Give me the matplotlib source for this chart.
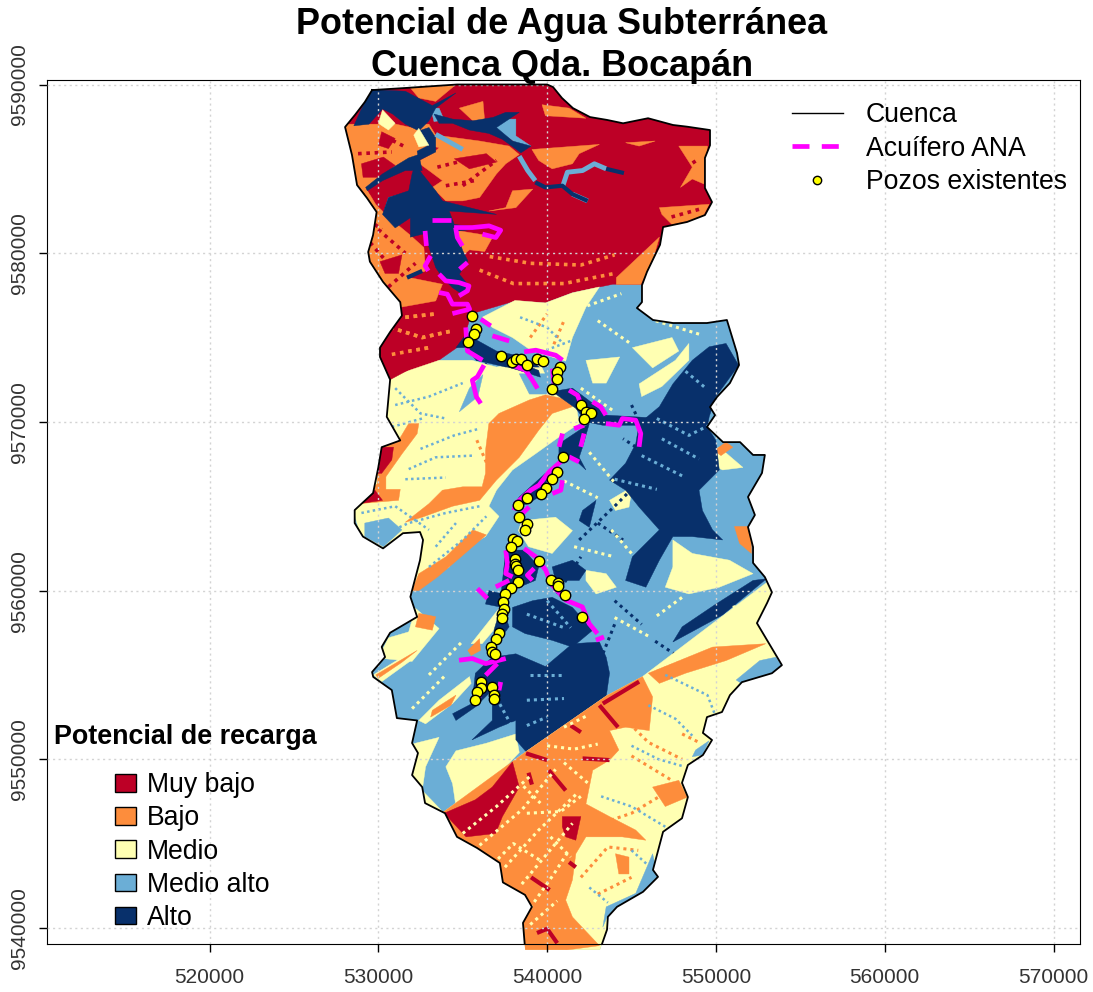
import matplotlib
matplotlib.use("Agg")
import matplotlib.pyplot as plt
from matplotlib.lines import Line2D
from matplotlib.patches import Patch, Polygon

plt.rcParams['font.family'] = ['Liberation Sans', 'DejaVu Sans']

#%% data, map coordinates in km (UTM east, north)

classes = ["Muy bajo", "Bajo", "Medio", "Medio alto", "Alto"]
class_colors = ["#BD0026", "#FD8D3C", "#FFFFB2", "#6BAED6", "#08306B"]
x_ticks = [520000, 530000, 540000, 550000, 560000, 570000]
y_ticks = [9540000, 9550000, 9560000, 9570000, 9580000, 9590000]

cuenca = [(529.63,9589.67),(531.7,9589.8),(534.66,9590),(540,9590),(540.35,9589.85),(540.88,9589.2),(541.53,9588.6),
    (542.54,9588.07),(543.55,9587.9),(544.5,9587.7),(545.98,9588),(547.46,9587.6),(548.29,9587.5),(549.65,9587.3),
    (549.65,9586.4),(549.35,9585.65),(549.35,9583.86),(549.77,9583.03),(549.35,9582.26),(548.29,9581.85),(546.87,9581.55),
    (546.69,9580.5),(545.92,9578.9),(545.62,9578.1),(545.62,9577.1),(545.32,9576.75),(546.27,9576.04),(547.46,9575.86),
    (549.47,9575.86),(550.65,9576.04),(551.25,9574.08),(551.37,9573.37),(550.83,9572.3),(550.06,9571.47),(549.65,9570.88),
    (549.95,9570.4),(549.47,9569.7),(550.42,9568.8),(551.43,9568.8),(552.2,9568.04),(552.9,9568.04),(552.73,9566.97),
    (551.9,9565.55),(552.31,9564.48),(551.9,9563.77),(552.2,9562.58),(552.2,9561.64),(552.9,9560.8),(553.32,9559.9),
    (553.03,9559.26),(552.43,9558.07),(553.38,9556.47),(553.91,9555.58),(553.32,9555.1),(551.54,9554.57),(550.83,9553.8),
    (550.36,9552.8),(549.47,9552.5),(549.23,9551.56),(549.77,9551.14),(549.23,9550.25),(548.34,9549.66),(547.99,9548.6),
    (548.34,9547.76),(547.99,9546.5),(546.87,9545.7),(546.27,9543.44),(546.57,9543.03),(545.68,9542.14),(544.14,9541.25),
    (543.6,9540.66),(543.55,9539.9),(543.13,9538.7),(538.7,9538.7),(538.57,9540.3),(539.1,9541.25),(538.69,9541.96),
    (537.38,9542.7),(537.2,9543.85),(535.85,9544.74),(534.66,9545.4),(533.95,9546.8),(532.77,9547.4),(532.6,9548.35),
    (532,9549.06),(532.35,9550.37),(532,9550.96),(532.3,9552.3),(531.1,9552.44),(530.8,9554.1),(529.7,9554.88),
    (529.63,9555.17),(530.4,9556.06),(530.2,9556.66),(530.7,9557.5),(532.3,9558.44),(531.9,9559.63),(532.47,9561.8),
    (532.65,9563),(532.47,9563.47),(531.46,9563.4),(530.28,9562.5),(529.09,9563.2),(528.6,9564),(528.6,9564.77),
    (529.69,9565.78),(530,9567.3),(530.2,9568.5),(531.3,9568.9),(530.5,9570.3),(530.7,9572.5),(530.1,9573.85),
    (530.1,9574.4),(530.7,9575.33),(531.4,9576.3),(531.3,9577.1),(530.28,9578.3),(529.5,9579.5),(529.4,9580.07),
    (529.69,9581.08),(529.9,9582.44),(529.33,9583.27),(528.74,9584.04),(528.44,9585.82),(528.03,9587.48),(528.62,9588.2),
    (529.2,9588.96)]

north_red = [[(520,9572.5),(530.6,9572.47),(532.4,9573.06),(533.6,9573.66),(535,9574.64),(535.5,9576.4),(538.1,9577.17),
    (539.9,9577.07),(541.5,9577.67),(543.9,9578.16),(545.55,9578.16),(560,9578.16),(560,9595),(520,9595)]]

north_orange = [
    [(531.9,9589.8),(534.6,9590),(533.4,9589),(532.4,9589.2)],
    [(534.8,9588.6),(536.2,9589),(536.3,9587.85),(535.6,9587.85)],
    [(539.7,9588.8),(541.3,9588.6),(542.3,9588),(539.9,9588.15)],
    [(528.06,9587.65),(531.03,9587.65),(532.41,9587.35),(533,9586.36),(532.31,9585.47),(529.25,9583.89),(529.84,9582.9),
     (530.63,9582.11),(531.82,9581.13),(532.7,9580.34),(532.8,9578.95),(531.82,9578.56),(533.8,9578.16),(533.4,9577.17),
     (531.23,9576.78),(529.64,9578.75),(528.85,9579.94),(528.85,9582.7),(528.06,9584.7)],
    [(532.4,9587.65),(533,9587.65),(533.4,9587),(536,9586.65),(537.75,9586.35),(538.35,9585.85),(537.55,9585.3),(537,9584.7),
     (536,9583.3),(535,9583.1),(534,9583.1),(533.2,9583.9),(533.8,9584.3),(533,9584.9),(532.3,9585.4),(533.2,9585.9),
     (533.6,9586.25),(532.8,9586.45)],
    [(537.55,9582.7),(537.95,9583.7),(539.15,9583.8),(538.15,9582.7),(536.55,9582.5)],
    [(539.1,9586.15),(543.1,9586.45),(541.9,9585.9),(541.5,9585.3),(540.3,9585),(539.5,9585.5)],
    [(544.65,9586.55),(546.4,9586.65),(545.45,9586.35)],
    [(547.8,9586.35),(549.5,9586.35),(549.3,9584.1),(548.6,9584.4),(547.9,9583.9),(548.6,9585.1)],
    [(546.65,9582.7),(549.6,9582.9),(549.2,9582.1),(547.4,9581.7),(546.8,9582.3)],
    [(544.1,9578.55),(546.65,9580.95),(546.25,9579.55),(545.55,9578.15),(544.1,9578.15)],
    [(532.9,9581.7),(534.3,9581.4),(536.8,9581),(536.3,9580.1),(535.4,9580.2),(534.8,9579.7),(533.4,9579.7)],
]
north_red_blobs = [
    [(529,9585.3),(530.3,9585.7),(531,9585.2),(530.2,9584.5),(529.1,9584.5)],
    [(530.1,9579.5),(531.4,9579.9),(531.2,9578.8),(530.4,9578.8)],
    [(530.2,9587.2),(531,9586.8),(530.6,9586.2),(530,9586.4)],
    [(534.5,9585.6),(536.4,9585.9),(537,9585.4),(535.4,9585)],
]
north_blue = [
    [(537,9587.95),(538.15,9587.95),(538.15,9586.95),(539.05,9586.35),(538.45,9586.35),(537.55,9586.95),(537,9587.35)],
    [(530.6,9583.3),(531.4,9583.5),(531.4,9582.3),(530.35,9582.5)],
    [(533.1,9588.6),(533.6,9588.6),(533.9,9587.9),(533.3,9587.8)],
]
north_navy = [
    [(529.55,9589.7),(531.6,9589.6),(533.2,9588.75),(534.6,9589.5),(533.4,9588.6),(533,9587.85),(532.4,9587.25),(531.6,9587.65),
     (530.85,9588.25),(530.25,9588.55),(529.45,9587.65),(528.55,9587.55),(528.95,9588.45),(529.25,9589)],
    [(532.2,9585.3),(532.6,9584.7),(533.4,9583.7),(533.8,9583.1),(535.4,9582.7),(537,9582.3),(534.2,9582.5),(534.5,9581.7),
     (536.35,9581.5),(534.6,9581.3),(535,9580.15),(535.3,9579.55),(534.8,9578.75),(535.3,9578.15),(535,9577.55),(534.4,9577.95),
     (533.8,9578.55),(533.4,9579.15),(533,9580.35),(532.7,9581.15),(531.9,9580.95),(531.9,9582.1),(531,9581.5),(530.25,9582.3),
     (530.6,9583.3),(531.8,9583.7),(532,9584.7)],
    [(529.25,9583.9),(530.25,9584.7),(531.8,9585.65),(532.4,9585.85),(532.6,9584.9),(531.6,9584.9),(530.25,9584.3),(529.35,9583.7)],
    [(533,9587.45),(533.4,9586.85),(533.4,9586),(532.4,9585.5),(532.3,9586.05),(532.9,9586.35),(532.4,9587.25)],
    [(533.3,9588.25),(534.4,9587.95),(535.6,9587.85),(536.8,9588.05),(537.55,9588.35),(538.35,9588.35),(537,9587.45),(537.95,9586.65),
     (539.05,9586.35),(538.45,9585.95),(537.35,9586.75),(536.55,9587.1),(535.4,9587.3),(534.4,9587.7),(533.6,9587.7)],
]
north_yellow = [[(530,9587.7),(530.25,9588.5),(531,9587.7),(530.6,9587.3)], [(532.1,9587),(532.4,9587.4),(533,9586.4),(532.4,9586.3)]]
rivers_navy = [[(539.3,9584.2),(539.9,9583.9),(540.9,9584),(541.5,9583.5),(542.4,9583.1)],
    [(531.7,9578.55),(532.6,9578.95)], [(543.5,9585),(544.55,9584.75)],
    [(536.45,9573.45),(535.85,9572.65),(535.65,9571.5)], [(534.4,9570.3),(533.2,9569.4),(532.6,9568.7)]]
rivers_blue = [[(538.35,9585.75),(538.85,9584.9),(539.3,9584.3)],
    [(540.9,9583.9),(541.2,9584.8),(542.1,9584.9),(542.8,9585.3),(543.5,9585)],
    [(533.4,9587.05),(535,9586.15)], [(541.5,9583.5),(542.4,9583.1)]]

mid_yellow = [
    [(536.15,9576.2),(538.1,9577.2),(539.9,9577.05),(541.5,9577.65),(543.1,9578),(542.3,9576.8),(541.5,9575),(541.1,9573.6),
     (539.1,9574.2),(537.95,9575),(536.75,9575.6)],
    [(529.6,9572.3),(533.6,9573.65),(535.55,9573.65),(537,9573.25),(539.5,9573.65),(540.3,9571.9),(541.7,9571.1),(541.9,9569.9),
     (540.7,9569.1),(539.3,9568.1),(537.95,9567.15),(537,9565.95),(536.55,9565),(537.15,9564.4),(536.35,9563.2),(534.6,9562.2),
     (534.2,9561.4),(532.4,9560.4),(531.6,9559.4),(529.6,9561),(528.45,9565),(529.6,9568.9)],
    [(548.6,9567.45),(549.4,9568.1),(550.2,9568.5),(551.6,9567.3),(550.4,9567.15),(549.4,9567.6)],
    [(543.7,9565.35),(545.05,9566.15),(544.85,9564.95),(544.05,9564.75)],
    [(530,9556),(530.6,9557.2),(531.8,9557.55),(532.2,9558.95),(533.6,9557.75),(532,9555.8)],
    [(532.4,9552.3),(533.6,9553.5),(535.4,9554.9),(535.5,9554.5),(534.4,9553.3),(532.8,9552.1)],
    [(535.5,9556.85),(537.2,9559),(537,9557.85),(536.15,9556.85)],
    [(529.7,9555),(532.3,9556.6),(532,9555.9),(530.2,9554.6)],
    [(534,9549.55),(534.6,9550.5),(536.4,9550.95),(538.15,9551.5),(538.35,9550.4),(537.35,9549.35),(536.15,9548.2),(534.6,9547.2),(534.4,9548.55)],
    [(532,9550.9),(533.6,9551.3),(532.8,9549.55),(532.6,9548.15),(533.9,9546.8),(532.8,9547.4),(531.9,9549.15)],
    [(537.55,9554.5),(539.3,9554.9),(538.5,9554.1),(537.55,9553.7)],
    [(538.5,9564.15),(540.5,9564.35),(541.5,9563.55),(540.3,9562.2),(538.9,9562.6),(538.3,9563.55)],
    [(542.3,9561.2),(543.5,9561),(544.1,9560.2),(542.9,9559.8),(542.3,9560.6)],
    [(547.45,9563),(548.6,9562.2),(550.8,9561.8),(552.2,9561),(550.2,9560.2),(548.4,9559.8),(547,9560.2),(547.45,9561.4)],
    [(545.45,9572.25),(547.6,9573.65),(548.4,9574.65),(548.4,9573.65),(546.8,9572.1),(545.6,9571.5)],
    [(542.3,9573.65),(544.3,9573.85),(543.5,9572.3),(542.7,9572.3)],
    [(545.05,9574.4),(547.4,9575),(547.8,9574.2),(546.25,9573.2)],
]
mid_blue = [[(538.35,9572.85),(540.1,9572.85),(540.3,9571.65),(538.95,9571.65)],
    [(536.2,9572.8),(535.9,9571.5),(534.8,9570.6),(535.4,9572)],
    [(529.2,9564),(530.6,9564.3),(531.4,9563.6),(530.3,9562.6),(529.2,9563.2)]]
mid_orange = [
    [(536.55,9569.9),(537.15,9570.5),(538.95,9571.3),(539.9,9571.6),(541.3,9571.3),(541.5,9570.9),(540.3,9570.5),(539.5,9569.5),
     (538.35,9567.9),(537,9566.55),(536,9565.35),(534.4,9565),(532.6,9564.35),(531.6,9564.05),(533,9565.15),(533.8,9565.95),
     (535,9566.15),(536.15,9566.15),(536.35,9566.95),(536.35,9568.3)],
    [(532,9560),(532.4,9561),(534,9562),(535.6,9563.6),(536.4,9563.3),(534.9,9562),(533.5,9560.8),(532.4,9560)],
    [(530,9568.5),(531.2,9568.9),(531.8,9569.9),(532.4,9569.9),(532.3,9569.3),(531.4,9568.1),(530.45,9566.75),(530.45,9566),
     (531.3,9566),(531.2,9565.35),(528.85,9565.15),(529.95,9566.35),(529.95,9567.3)],
    [(551.1,9563.8),(552.1,9563.8),(552.1,9562.2),(551.4,9562.8)],
    [(549.9,9568.3),(550.6,9568.8),(551,9568.5),(550.3,9568)],
    [(532.4,9558.65),(533.4,9558.45),(533.2,9557.65),(532.2,9557.85)],
    [(529.85,9555),(532.3,9556.45),(531.4,9555.75),(530,9554.8)],
    [(535.3,9556.45),(536,9557.15),(536.05,9556.45),(535.5,9556.15)],
    [(533.2,9552.9),(534.6,9553.8),(534.3,9553.2),(533.1,9552.5)],
]
mid_red = [
    [(530,9568.5),(530.9,9568.5),(530.8,9567.75),(530.2,9566.95),(529.95,9566.95)],
    [(528.85,9565.15),(529.8,9565.95),(530.25,9565.35)],
    [(530,9575),(531.5,9574.3),(533.4,9574),(532,9573.2),(530.7,9572.5),(530,9573.5)],
]
mid_navy = [
    [(545.45,9569.9),(546.65,9570.9),(547.45,9572.25),(548.6,9573.65),(549.6,9574.45),(550.6,9574.65),(551.35,9573.35),(550,9571.5),
     (549.6,9570.3),(549.5,9569.7),(550,9568.9),(550.2,9567.15),(549,9565.95),(549.2,9564.75),(549.8,9563.6),(550.4,9563),
     (548.6,9563.2),(547.45,9563.2),(546.65,9561.8),(545.85,9560.2),(544.65,9560.6),(545.05,9562),(546.65,9563.6),(545.45,9564.95),
     (544.65,9565.95),(543.7,9566.55),(544.65,9567.55),(545.25,9568.7)],
    [(548,9557.85),(550,9559.2),(552.2,9560.6),(553,9560.7),(550.4,9558.55),(547.45,9556.95)],
    [(536.75,9556.05),(538.15,9556.25),(539.9,9555.5),(541.5,9556.85),(543.1,9556.95),(543.5,9556.05),(543.7,9555.1),(543.5,9553.7),
     (541.5,9552.3),(538.75,9550.45),(538.15,9551.15),(538.15,9552.3),(537.15,9551.9),(535.55,9551.15),(536.75,9552.3),(536.75,9554.1),
     (535.75,9553.1),(534.6,9552.3),(534.4,9552.7),(535.55,9553.3),(535.75,9555.1)],
    [(537.95,9559),(539.15,9559.4),(540.3,9559.6),(541.5,9559),(542.7,9557.65),(541.5,9556.65),(540.3,9557.05),(538.7,9557.45),(537.95,9557.85)],
    [(540.3,9561.4),(541.5,9561.8),(542.3,9561.2),(541.9,9560.6),(540.5,9560.6)],
    [(537.55,9562.4),(538.65,9562.4),(539.5,9561.4),(539.3,9560.6),(538.35,9560.2),(537.35,9559.8),(536.55,9560),(536.35,9559.2),
     (537.35,9559),(537.75,9557.85),(537.15,9557.05),(536.85,9557.65),(537.15,9558.65)],
    [(540.7,9568.7),(541.9,9569.5),(542.5,9569.9),(542.1,9568.5),(541.9,9567.9),(542.3,9567.15),(541.5,9567.9),(540.9,9567.7),(540.7,9567.9)],
    [(538.35,9565.55),(539.9,9566.95),(540.5,9566.95),(540.1,9565.95),(538.9,9565.15),(538,9564.95)],
    [(540.3,9571.8),(541.5,9572),(542.7,9571.1),(543.5,9570.4),(546.05,9570.25),(545.45,9569.8),(543.3,9569.8),(542.3,9570),(541.7,9570.8)],
    [(535.75,9574.85),(537,9574.05),(539.5,9573.05),(539.6,9572.65),(538.35,9573.05),(537,9573.45),(535.8,9573.65)],
    [(534.6,9574.4),(535.2,9575.2),(537,9574.2),(538.6,9573.85),(539.55,9573.25),(537.55,9573.25),(535.8,9573.65),(535.2,9574.4)],
    [(542.1,9564.75),(542.9,9565.35),(542.5,9563.75),(541.9,9564.15)],
]

south_yellow = [[(533.9,9546.9),(538.75,9550.45),(543.5,9553.75),(545.65,9554.9),(553.3,9560.7),(560,9560),(560,9530),(520,9530),(530,9546)]]
south_blue = [
    [(551.2,9554.7),(552.6,9555.85),(553.55,9556.05),(553.9,9555.55),(553.4,9555.05),(551.5,9554.5)],
    [(545.25,9542.05),(546.25,9544.4),(546.55,9543.05),(545.65,9542.15),(544.1,9541.25),(543.55,9540.65),(543.3,9540.05),(543.5,9541.25)],
    [(548.8,9550.55),(549.6,9551.1),(549.2,9550.25),(548.6,9550.15)],
]
south_orange = [
    [(533.9,9546.9),(538.75,9550.45),(543.5,9553.75),(545.65,9554.9),(546.25,9553.7),(546.05,9551.7),(544.65,9551.9),(543.7,9551.7),
     (544.25,9550.55),(543.7,9549.95),(542.7,9549.35),(542.5,9548.35),(542.3,9547.35),(543.7,9546.6),(545.25,9545.8),(545.85,9545.2),
     (544.45,9545.4),(542.3,9545.4),(541.7,9544.4),(541.5,9542.85),(541.1,9541.65),(541.5,9540.65),(543.1,9538.95),(536,9538),(530,9546)],
    [(547.8,9548.75),(548.3,9547.75),(547,9547.2),(546.25,9548.35)],
    [(544.05,9544.4),(544.85,9544.2),(544.85,9543.2),(544.25,9543.2)],
    [(549.8,9556.65),(552.95,9556.85),(550.6,9555.85),(548.2,9555.1),(546.65,9554.5),(546,9555.1)],
]
south_red = [
    [(537.95,9549.85),(538.35,9548.35),(537.35,9546.6),(536.95,9545.6),(535.2,9545.4),(533.9,9546.8),(535.75,9547.6),(536.75,9548.35)],
    [(540.9,9546.6),(542,9546.6),(541.7,9545.2),(541.1,9545.4),(540.9,9546)],
]
red_streaks = [[(543.1,9553.2),(544.2,9551.9)],[(542.1,9550.05),(543.7,9549.95)],[(538.75,9550.35),(540,9549.95)],
    [(540.1,9549.35),(541.1,9548.15)],[(539.05,9543),(540.15,9542.25)],[(539.4,9539.7),(540,9539.95),(540.6,9539.1)],
    [(543.3,9553.3),(545.45,9554.6)],[(541.4,9552),(542,9551.6)],[(538.9,9549.2),(539.1,9548.5)],[(541.7,9543.6),(541.3,9543.9)]]

# mottling, drawn as dotted runs
dots_yellow_on_orange = [[(535,9545.6),(537,9547.2),(539,9549)],[(536,9544.9),(538.5,9547),(540.5,9549.4)],[(537.5,9543.6),(539.5,9545.8),(541.8,9548)],
    [(538.5,9542.6),(540,9544.4),(541.5,9546.2)],[(539,9541.2),(540.4,9543.2),(541.3,9544.6)],[(539,9540.2),(540.6,9541.6)],
    [(538.8,9546.8),(540.8,9546.9),(542,9547.8)],[(540,9550.8),(541.6,9550.6),(543,9550.9)],[(541,9551.9),(542.4,9552.6)],[(538.6,9548.4),(539.6,9547.4)],
    [(536.8,9543.8),(538,9545),(539.6,9544)],[(540.2,9545.4),(541.4,9544.2)],[(541,9549.8),(542.4,9548.6)]]
dots_blue_on_yellow = [[(531,9572),(532.5,9570.5),(534,9570.2)],[(531,9571),(533,9571.5),(535,9572.3)],[(530.8,9569.7),(532.6,9570.2)],
    [(532.5,9568.4),(534.5,9569.2),(536,9569.6)],[(531.8,9567.2),(533.4,9567.9),(535.6,9568)],[(531.6,9566.6),(534,9566.7)],
    [(529,9564.6),(531,9565),(533,9563.6)],[(530,9563.2),(531.8,9564),(534,9564.6),(536,9565)],[(533,9561.4),(535,9563),(536.4,9564.4)],
    [(533.4,9562.6),(534.6,9564)],[(538.4,9576.2),(540,9575.6),(541,9574.6)],[(539,9573.9),(541.4,9574.8)],
    [(546,9553.2),(547.6,9552.4),(548.6,9551.4)],[(545,9550.8),(546.6,9550),(548,9549.6)],[(543.2,9547.8),(545,9547.2),(547,9546)],
    [(545,9544.6),(546,9543.7)],[(542.5,9542.4),(543.6,9541.5)],[(547,9555),(549.5,9553.8),(550,9552.5)]]
dots_orange_on_yellow = [[(544,9553),(546,9551),(548,9550)],[(546.5,9555.2),(548.5,9556),(551,9556.4)],[(545,9550.2),(547.3,9548.8)],
    [(542.6,9546),(545,9546.8),(547,9548)],[(542,9543),(543.6,9544.8),(545.4,9544.6)],[(543,9542),(545,9543)],[(548,9551.5),(549,9551)],
    [(539,9575),(540,9576.4)],[(540.4,9574.6),(541,9576)],[(536.4,9567.6),(535.8,9569)]]
dots_red_on_orange = [[(528.8,9585.9),(530.8,9586)],[(529,9583.4),(530,9583.9)],[(530,9581.4),(531.6,9580)],[(529.2,9581),(530.4,9579.6)],
    [(530.6,9578),(532.2,9579.4)],[(533.5,9585.1),(535.5,9585.6)],[(535,9584),(537,9585.5)],[(534,9584),(535.7,9584.3)],
    [(547.8,9584.8),(549,9585.6)],[(549,9582.6),(547.2,9582.1)],[(530.4,9586.9),(531.6,9586.3)],[(529.4,9582),(530.2,9581.4)]]
dots_orange_on_red = [[(536,9579),(538,9578.2),(541,9578.2),(544,9578.8)],[(536.6,9579.8),(539,9579.4),(542,9579.3),(544,9579.9)],
    [(530.7,9575.6),(532.6,9575),(534.4,9575.4)],[(531.6,9576.2),(533.4,9576.4)],[(530.8,9574),(533,9574.4)]]
dots_yellow_on_blue = [[(541.6,9576.6),(544.4,9577.6)],[(543,9576),(545,9574.6)],[(542,9572),(544,9570.6)],[(542.5,9568.2),(544,9566.4)],
    [(541,9566.5),(543,9565.5)],[(543.8,9563.6),(545,9562.2)],[(546.5,9558.5),(548,9559.6)],[(544,9558.4),(546,9557.3)],[(533,9555),(535,9557)],
    [(532,9553),(534,9555)],[(551,9559),(552.4,9559.4)],[(541.6,9562.6),(544,9562)],[(549,9575.2),(546.4,9576)]]
dots_blue_on_navy = [[(546.5,9570.2),(548.4,9569.2),(549.6,9569.8)],[(546.8,9569),(549,9567.8)],[(545.6,9568),(548,9566.8)],[(548.2,9573),(549.4,9572)],
    [(544,9566.6),(546.5,9566)],[(536.8,9554),(538,9551.8)],[(538.8,9553.5),(541,9553.6)],[(539,9555),(541,9555)],[(538.8,9552),(540,9552.5)],
    [(538.8,9558.6),(541,9557.8)],[(540,9559.4),(541.4,9557.8)]]
dots_navy_on_blue = [[(545,9571),(546.4,9568)],[(541.9,9563),(544,9565),(545,9566)],[(543,9564),(544.5,9563)],[(540.6,9559.8),(542,9562)],
    [(544,9559.4),(545.6,9558)],[(547,9567.4),(544.5,9569)],[(546.4,9557),(547.6,9556.2)],[(544,9558),(543.2,9556)]]

wells_x = [535.53,535.77,535.67,535.34,537.29,537.9,538.14,538.44,538.79,539.43,539.76,540.75,540.61,540.57,540.31,541.99,542.29,542.59,
    542.19,540.95,540.57,540.31,539.96,539.62,538.79,538.28,538.36,538.79,538.67,538,538.24,537.84,538.08,538.08,538.14,538.28,538.28,
    537.88,537.51,537.39,537.45,537.35,537.35,537.15,536.96,536.66,536.76,536.92,539.52,540.22,540.65,540.65,541.05,542.09,536.07,536.07,
    535.87,535.71,536.76,536.86,536.86]
wells_y = [9576.28,9575.49,9575.2,9574.76,9573.91,9573.56,9573.75,9573.71,9573.36,9573.71,9573.62,9573.26,9572.96,9572.57,9571.94,9570.99,
    9570.59,9570.53,9570.2,9567.93,9567.04,9566.6,9566.09,9565.75,9565.46,9565.1,9564.37,9563.97,9563.58,9563.04,9562.95,9562.59,9561.9,
    9561.6,9561.44,9561.2,9560.48,9560.18,9559.78,9559.33,9558.93,9558.64,9558.38,9557.51,9557.1,9556.66,9556.37,9556.21,9561.74,9560.65,
    9560.42,9560.28,9559.76,9558.44,9554.58,9554.25,9553.99,9553.54,9554.29,9553.79,9553.6]

acuifero = [
    [(533.2,9581.98),(534.29,9581.98)],
    [(534.49,9581.52),(535.57,9581.52),(536.56,9581.62),(537.25,9581.36),(536.96,9580.93),(536.17,9581.13)],
    [(534.58,9581.52),(534.68,9580.93),(534.98,9580.43)],
    [(532.77,9581.32),(532.85,9580.43)],
    [(533.1,9579.84),(532.77,9579.25),(532.96,9578.95)],
    [(535.28,9579.45),(534.82,9579.05)],
    [(533.6,9578.76),(533.99,9578.36),(534.78,9578.26),(535.37,9578.06),(535.28,9577.77),(534.78,9577.47)],
    [(533.6,9577.67),(534.09,9577.57),(534.39,9576.98),(535.28,9576.98),(535.41,9576.68),(534.39,9576.42)],
    [(536.07,9576.09),(536.66,9575.69)],
    [(536.76,9575.1),(537.75,9574.8)],
    [(535.18,9575.6),(535.28,9574.2),(536.17,9573.66)],
    [(538.64,9574.15),(539.33,9574.25),(540.51,9573.95),(540.91,9573.66)],
    [(536.26,9573.36),(535.87,9572.67),(535.57,9572.47),(535.81,9571.48),(536.07,9571.09)],
    [(537.94,9573.36),(538.73,9573.06),(539.13,9572.47),(539.43,9571.98)],
    [(540.31,9573.16),(540.41,9572.27)],
    [(541.3,9571.88),(541.8,9571.58),(541.99,9571.09)],
    [(542.69,9571.19),(543.18,9570.89),(543.48,9570.4)],
    [(543.48,9569.9),(544.27,9569.8),(544.46,9570.2),(545.25,9570.1),(545.55,9569.31),(545.45,9568.52)],
    [(542.19,9569.8),(541.6,9569.6)],
    [(540.91,9569.31),(540.71,9568.52)],
    [(542.19,9569.31),(541.99,9568.52)],
    [(541.3,9567.93),(541.89,9567.63)],
    [(540.91,9567.73),(540.12,9567.04),(539.52,9566.25),(539.03,9565.95),(538.14,9565.16),(538.04,9564.76)],
    [(540.91,9566.54),(540.81,9565.95),(540.31,9565.75)],
    [(538.93,9564.96),(538.54,9564.57)],
    [(537.55,9562.39),(537.65,9561.6),(537.55,9561.01),(537.95,9560.81)],
    [(538.64,9562.49),(539.33,9562),(539.92,9561.21),(540.22,9560.42),(541.11,9559.43),(542.09,9559.03),(542.49,9558.04),(542.98,9557.45)],
    [(542.89,9557.06),(543.37,9557.25)],
    [(539.23,9561.31),(538.83,9560.91),(539.13,9560.61)],
    [(536.96,9560.22),(537.75,9560.61)],
    [(535.87,9560.12),(536.46,9559.53)],
    [(534.78,9555.87),(535.57,9555.97),(536.36,9555.67),(537.55,9555.97)],
    [(536.36,9554.98),(537.05,9555.67)],
    [(537.25,9554.58),(537.15,9554.09)],
    [(535.67,9553.2),(536.07,9553.89)],
]

#%% figure

fig=plt.figure(figsize=(10.93,9.92),dpi=100)
ax=fig.add_axes([47/1093,1-944/992,1033/1093,864/992])
ax.set_xlim(510373,571569)
ax.set_ylim(9539048,9590267)

clip=Polygon([(x*1000,y*1000) for x,y in cuenca],transform=ax.transData,fc='none',ec='none')
ax.add_patch(clip)
red,orange,yellow,blue,navy=class_colors

def fill_all(polys,color):
    for p in polys:
        ax.fill([q[0]*1000 for q in p],[q[1]*1000 for q in p],color=color,lw=0.3,zorder=1,clip_path=clip)

def stroke_all(lines,color,lw):
    for p in lines:
        ax.plot([q[0]*1000 for q in p],[q[1]*1000 for q in p],color=color,lw=lw,zorder=1,clip_path=clip,solid_capstyle='butt')

def dots_all(lines,color,lw=2.2):
    for p in lines:
        ax.plot([q[0]*1000 for q in p],[q[1]*1000 for q in p],color=color,lw=lw,ls=(0,(1,1.3)),zorder=1,clip_path=clip)

fill_all([cuenca],blue)
fill_all(north_red,red)
fill_all(north_orange,orange)
fill_all(north_red_blobs,red)
dots_all(dots_red_on_orange,red,2.6)
dots_all(dots_orange_on_red,orange,2.6)
fill_all(north_blue,blue)
fill_all(north_navy,navy)
fill_all(north_yellow,yellow)
stroke_all(rivers_blue,blue,3.5)
stroke_all(rivers_navy,navy,3)
fill_all(mid_yellow,yellow)
fill_all(mid_blue,blue)
fill_all(mid_orange,orange)
fill_all(mid_red,red)
dots_all(dots_orange_on_red[2:],orange,2.6)
dots_all(dots_navy_on_blue,navy)
fill_all(mid_navy,navy)
dots_all(dots_yellow_on_blue,yellow)
dots_all(dots_blue_on_navy,blue)
fill_all(south_yellow,yellow)
fill_all(south_blue,blue)
fill_all(south_orange,orange)
fill_all(south_red,red)
stroke_all(red_streaks,red,3)
dots_all(dots_yellow_on_orange,yellow)
dots_all(dots_orange_on_yellow,orange)
dots_all(dots_blue_on_yellow,blue,1.8)

ax.grid(True,color='lightgray',ls=(0,(1.5,2.5)),lw=1.0,zorder=2)
ax.set_axisbelow(False)
for g in ax.get_xgridlines()+ax.get_ygridlines():
    g.set_zorder(2)

ax.plot([x*1000 for x,y in cuenca]+[cuenca[0][0]*1000],[y*1000 for x,y in cuenca]+[cuenca[0][1]*1000],color='black',lw=1.3,zorder=3)
for p in acuifero:
    ax.plot([q[0]*1000 for q in p],[q[1]*1000 for q in p],color='#FF00FF',lw=3.4,zorder=4,solid_capstyle='butt')
ax.plot([x*1000 for x in wells_x],[y*1000 for y in wells_y],ls='none',marker='o',ms=7.5,mfc='#FFFF00',mec='black',mew=1,zorder=5)

ax.set_xticks(x_ticks)
ax.set_xticklabels([str(v) for v in x_ticks])
ax.set_yticks(y_ticks)
ax.set_yticklabels([str(v) for v in y_ticks],rotation=90,va='center')
ax.tick_params(length=6,width=1,labelsize=15,labelcolor='#333333')
ax.tick_params(axis='x',pad=11)
ax.tick_params(axis='y',pad=7)

fig.text(562/1093,1-25/992,"Potencial de Agua Subterránea",fontsize=25.9,fontweight='bold',ha='center',va='center')
fig.text(562/1093,1-67/992,"Cuenca Qda. Bocapán",fontsize=25.9,fontweight='bold',ha='center',va='center')

h1=[Line2D([],[],color='black',lw=1),
    Line2D([],[],color='#FF00FF',lw=3.4,ls=(0,(3.6,2.6))),
    Line2D([],[],ls='none',marker='o',ms=6,mfc='#FFFF00',mec='black',mew=1)]
leg1=ax.legend(h1,["Cuenca","Acuífero ANA","Pozos existentes"],loc='upper right',bbox_to_anchor=(1-(1080-1067)/1033,1-(102-80)/864),
    frameon=False,fontsize=19.2,handlelength=1.92,handletextpad=0.86,labelspacing=0.29,borderpad=0,borderaxespad=0)
ax.add_artist(leg1)
h2=[Patch(fc=c,ec='black',lw=1) for c in class_colors]
ax.legend(h2,classes,loc='lower left',bbox_to_anchor=((115-47)/1033,(944-931)/864),frameon=False,fontsize=19.2,
    handlelength=0.79,handleheight=0.64,handletextpad=0.42,labelspacing=0.27,borderpad=0,borderaxespad=0)
fig.text(54/1093,1-737/992,"Potencial de recarga",fontsize=19.4,fontweight='bold',ha='left',va='center')

fig.savefig("out.png",dpi=100)
